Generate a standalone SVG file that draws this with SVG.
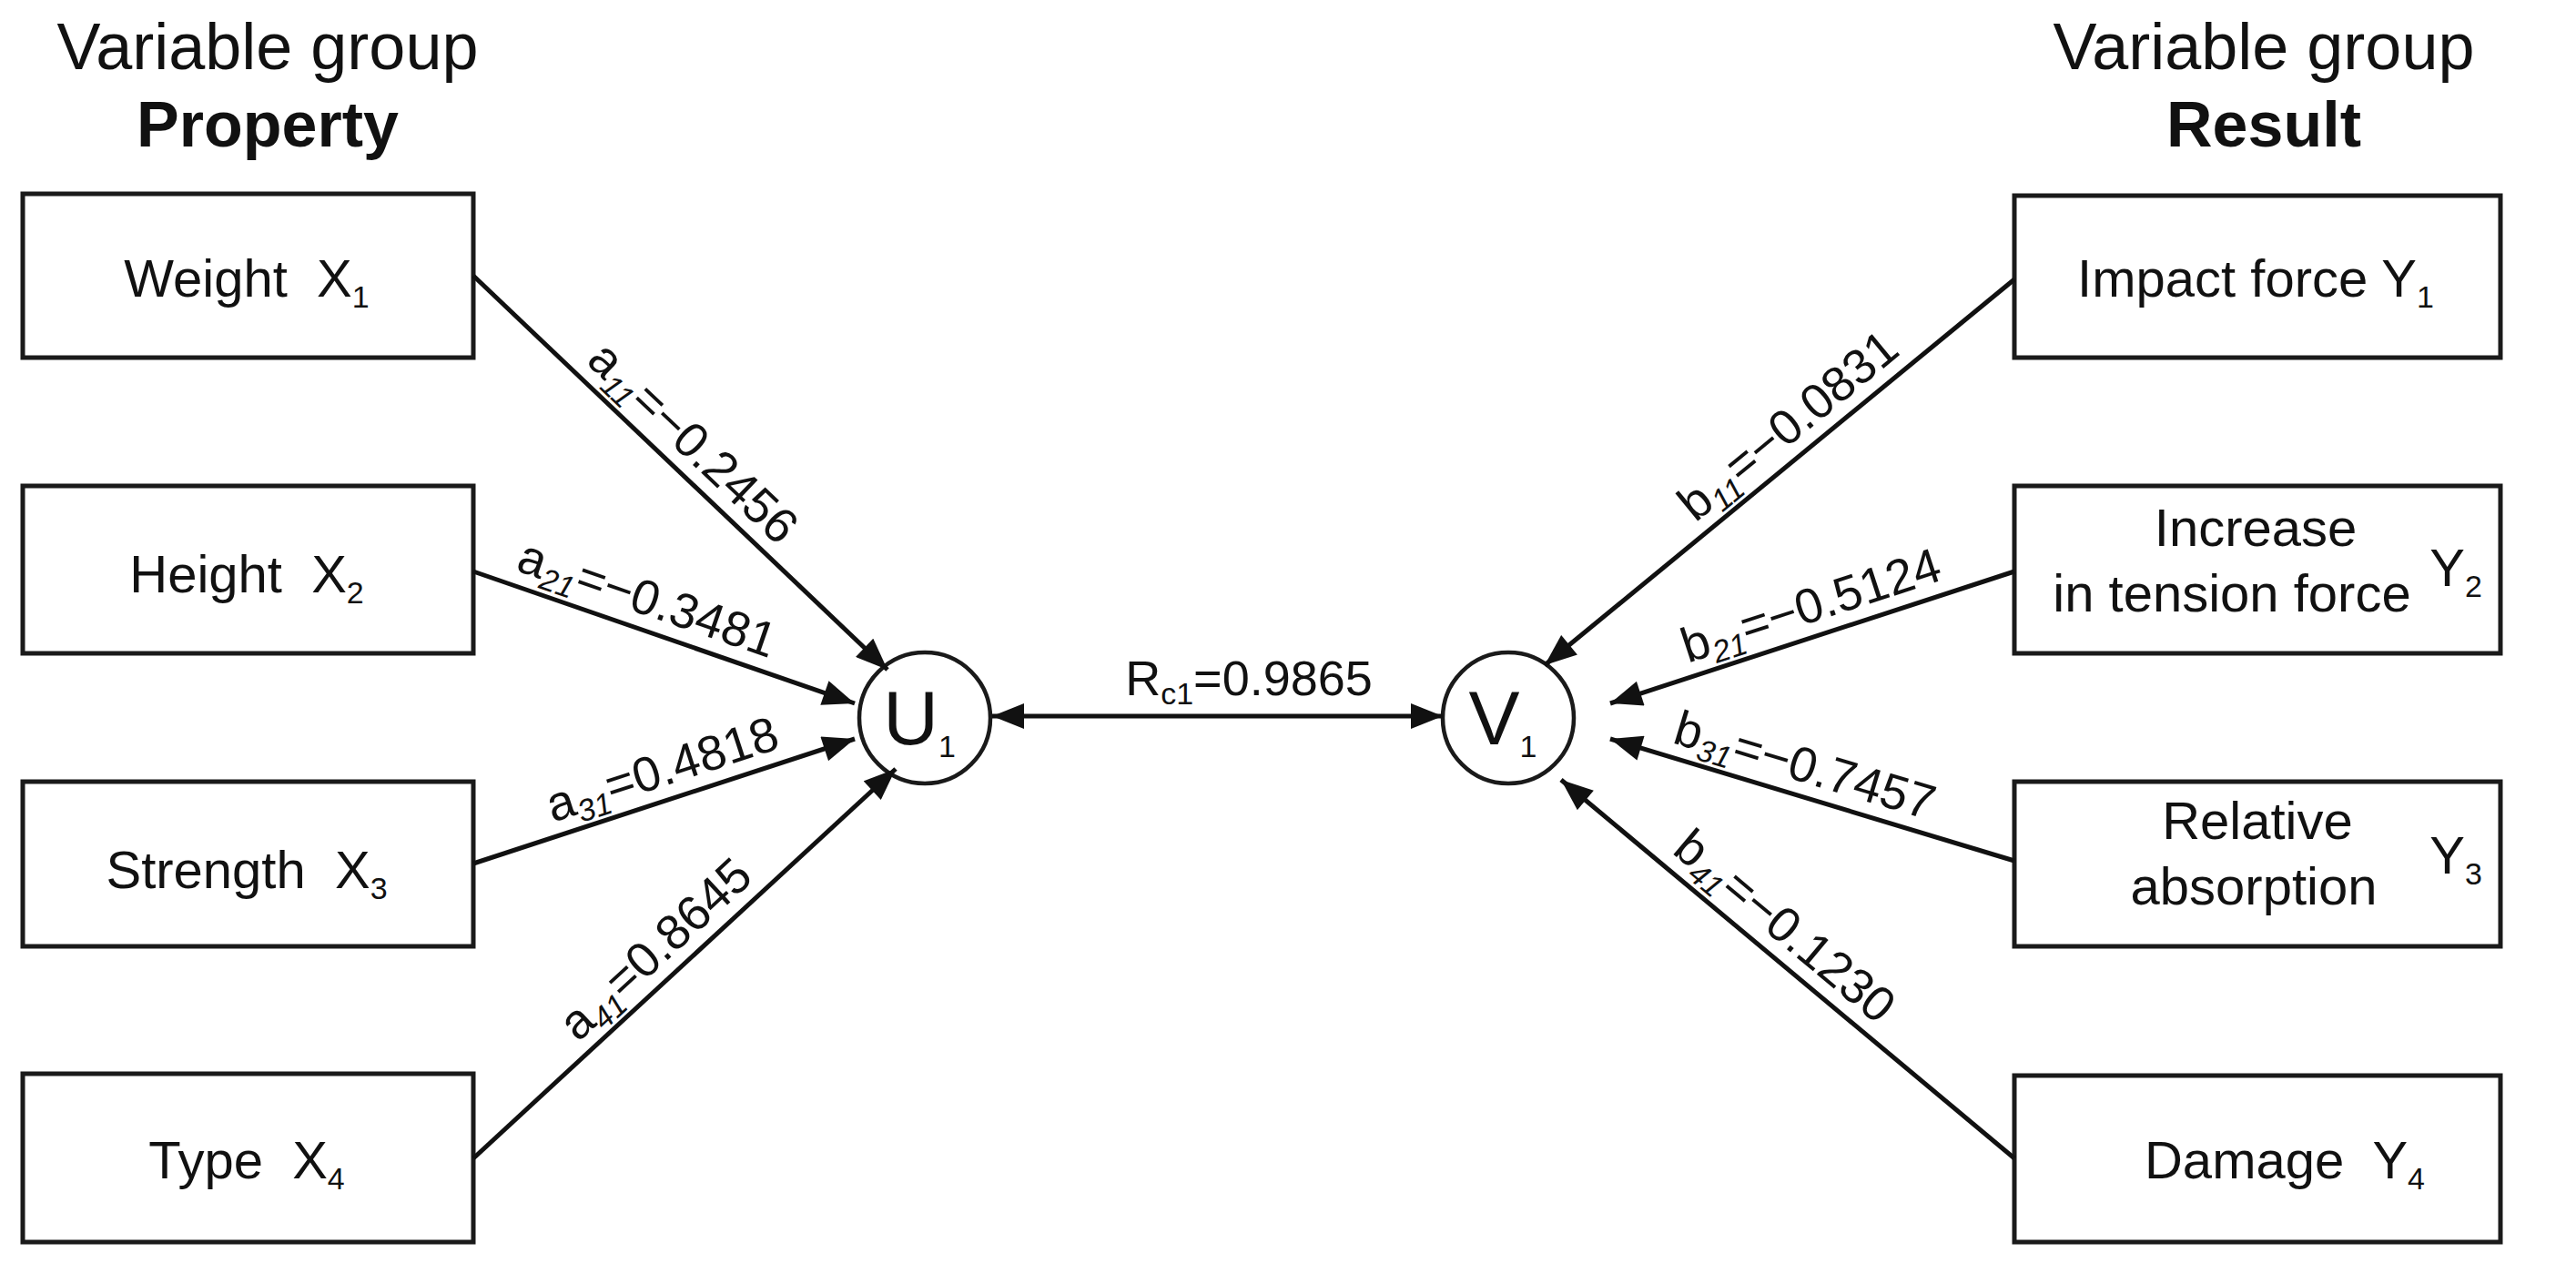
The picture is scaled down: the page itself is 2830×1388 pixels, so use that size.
<svg xmlns="http://www.w3.org/2000/svg" width="2830" height="1388" viewBox="0 0 2830 1388">
<style>
text{font-family:"Liberation Sans",Arial,sans-serif;fill:#111}
.t{font-size:58px;text-anchor:middle}
.h{font-size:72px;text-anchor:middle}
.hb{font-size:70px;text-anchor:middle;font-weight:bold}
.l{font-size:54px;text-anchor:middle}
.c{font-size:84px;text-anchor:middle}
.s{font-size:34px}
.si{font-size:34px;font-style:italic}
rect{fill:#fff;stroke:#1a1a1a;stroke-width:5}
circle{fill:#fff;stroke:#1a1a1a;stroke-width:4.5}
.e line{stroke:#111;stroke-width:5}
</style>
<defs><marker id="a" viewBox="0 0 10 8" refX="10" refY="4" markerWidth="36" markerHeight="28" orient="auto-start-reverse" markerUnits="userSpaceOnUse"><path d="M0,0 L10,4 L0,8 z" fill="#111"/></marker></defs>

<g id="title-left"><text class="h" x="294" y="76">Variable group</text><text class="hb" x="294" y="161">Property</text></g>
<g id="title-right"><text class="h" x="2487" y="76">Variable group</text><text class="hb" x="2487" y="161">Result</text></g>

<g id="x1"><rect x="25" y="213" width="495" height="180"/><text class="t" x="271" y="326" xml:space="preserve">Weight  X<tspan class="s" dy="12">1</tspan></text></g>
<g id="x2"><rect x="25" y="534" width="495" height="184"/><text class="t" x="271" y="651" xml:space="preserve">Height  X<tspan class="s" dy="12">2</tspan></text></g>
<g id="x3"><rect x="25" y="859" width="495" height="181"/><text class="t" x="271" y="976" xml:space="preserve">Strength  X<tspan class="s" dy="12">3</tspan></text></g>
<g id="x4"><rect x="25" y="1180" width="495" height="185"/><text class="t" x="271" y="1295" xml:space="preserve">Type  X<tspan class="s" dy="12">4</tspan></text></g>

<g id="y1"><rect x="2213" y="215" width="534" height="178"/><text class="t" x="2478" y="326">Impact force Y<tspan class="s" dy="12">1</tspan></text></g>
<g id="y2"><rect x="2213" y="534" width="534" height="184"/><text class="t" x="2478" y="600">Increase</text><text class="t" x="2452" y="672">in tension force</text><text class="t" x="2698" y="644">Y<tspan class="s" dy="12">2</tspan></text></g>
<g id="y3"><rect x="2213" y="859" width="534" height="181"/><text class="t" x="2480" y="922">Relative</text><text class="t" x="2476" y="994">absorption</text><text class="t" x="2698" y="960">Y<tspan class="s" dy="12">3</tspan></text></g>
<g id="y4"><rect x="2213" y="1182" width="534" height="183"/><text class="t" x="2510" y="1295" xml:space="preserve">Damage  Y<tspan class="s" dy="12">4</tspan></text></g>

<g id="u1"><circle cx="1016" cy="789" r="72"/><text class="c" x="1010" y="818">U<tspan class="s" font-size="40" dy="14">1</tspan></text></g>
<g id="v1"><circle cx="1657" cy="789" r="72"/><text class="c" x="1651" y="818">V<tspan class="s" font-size="40" dy="14">1</tspan></text></g>

<g id="connectors" class="e">
<line x1="520" y1="303" x2="975" y2="736" marker-end="url(#a)"/>
<line x1="520" y1="628" x2="939" y2="773" marker-end="url(#a)"/>
<line x1="520" y1="949" x2="939" y2="812" marker-end="url(#a)"/>
<line x1="520" y1="1273" x2="984" y2="845" marker-end="url(#a)"/>
<line x1="2213" y1="307" x2="1697" y2="731" marker-end="url(#a)"/>
<line x1="2213" y1="628" x2="1769" y2="773" marker-end="url(#a)"/>
<line x1="2213" y1="946" x2="1769" y2="812" marker-end="url(#a)"/>
<line x1="2213" y1="1273" x2="1715" y2="857" marker-end="url(#a)"/>
<line x1="1090" y1="787" x2="1585" y2="787" marker-start="url(#a)" marker-end="url(#a)"/>
</g>

<g id="labels">
<text class="l" transform="translate(738,511) rotate(43.6)" y="-16">a<tspan class="si" dy="10">11</tspan><tspan dy="-10">=−0.2456</tspan></text>
<text class="l" transform="translate(700,690) rotate(19.1)" y="-16">a<tspan class="si" dy="10">21</tspan><tspan dy="-10">=−0.3481</tspan></text>
<text class="l" transform="translate(738,878) rotate(-18.1)" y="-16">a<tspan class="si" dy="10">31</tspan><tspan dy="-10">=0.4818</tspan></text>
<text class="l" transform="translate(743,1068) rotate(-42.7)" y="-16">a<tspan class="si" dy="10">41</tspan><tspan dy="-10">=0.8645</tspan></text>
<text class="l" transform="translate(1986,494) rotate(-39.4)" y="-16">b<tspan class="si" dy="10">11</tspan><tspan dy="-10">=−0.0831</tspan></text>
<text class="l" transform="translate(2000,698) rotate(-18.1)" y="-16">b<tspan class="si" dy="10">21</tspan><tspan dy="-10">=−0.5124</tspan></text>
<text class="l" transform="translate(1973,874) rotate(16.8)" y="-16">b<tspan class="si" dy="10">31</tspan><tspan dy="-10">=−0.7457</tspan></text>
<text class="l" transform="translate(1939,1044) rotate(39.9)" y="-16">b<tspan class="si" dy="10">41</tspan><tspan dy="-10">=−0.1230</tspan></text>
<text class="l" x="1372" y="764">R<tspan class="s" dy="10">c1</tspan><tspan dy="-10">=0.9865</tspan></text>
</g>
</svg>
